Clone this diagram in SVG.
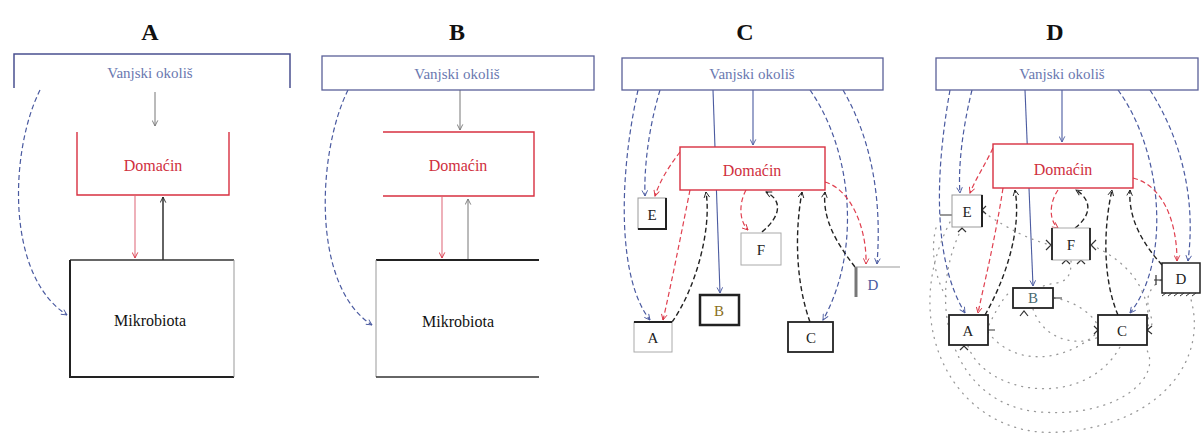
<svg xmlns="http://www.w3.org/2000/svg" width="1204" height="437" viewBox="0 0 1204 437">
<defs>
<marker id="mb" viewBox="0 0 10 10" refX="9" refY="5" markerWidth="7" markerHeight="7" orient="auto" markerUnits="userSpaceOnUse"><path d="M1,1 L9,5 L1,9" fill="none" stroke="#4a5aa0" stroke-width="1.3"/></marker>
<marker id="mr" viewBox="0 0 10 10" refX="9" refY="5" markerWidth="7" markerHeight="7" orient="auto" markerUnits="userSpaceOnUse"><path d="M1,1 L9,5 L1,9" fill="none" stroke="#d83040" stroke-width="1.3"/></marker>
<marker id="mk" viewBox="0 0 10 10" refX="9" refY="5" markerWidth="7" markerHeight="7" orient="auto" markerUnits="userSpaceOnUse"><path d="M1,1 L9,5 L1,9" fill="none" stroke="#222" stroke-width="1.3"/></marker>
<marker id="mg" viewBox="0 0 10 10" refX="9" refY="5" markerWidth="7" markerHeight="7" orient="auto" markerUnits="userSpaceOnUse"><path d="M1,1 L9,5 L1,9" fill="none" stroke="#777" stroke-width="1.3"/></marker>
</defs>
<style>
.t{font-family:"Liberation Serif",serif;font-weight:bold;font-size:24px;fill:#111;text-anchor:middle}
.v{font-family:"Liberation Serif",serif;font-size:15px;fill:#6a78b0;text-anchor:middle}
.h{font-family:"Liberation Serif",serif;font-size:16px;fill:#d03040;text-anchor:middle}
.m{font-family:"Liberation Serif",serif;font-size:16px;fill:#111;text-anchor:middle}
.l{font-family:"Liberation Serif",serif;font-size:15px;fill:#222;text-anchor:middle}
.env{fill:#fff;stroke:#5a6098;stroke-width:1.3}
.host{fill:#fff;stroke:#d83040;stroke-width:1.4}
.bx{fill:#fff;stroke:#222;stroke-width:1.8}
.bd{fill:none;stroke:#4a5aa0;stroke-width:1.2;stroke-dasharray:5,3}
.bs{fill:none;stroke:#4a5aa0;stroke-width:1.1}
.rd{fill:none;stroke:#e04050;stroke-width:1.2;stroke-dasharray:5,3}
.rs{fill:none;stroke:#e07080;stroke-width:1.1}
.kd{fill:none;stroke:#222;stroke-width:1.4;stroke-dasharray:5,3}
.ks{fill:none;stroke:#222;stroke-width:1.4}
.gs{fill:none;stroke:#777;stroke-width:1}
.dot{fill:none;stroke:#999;stroke-width:1.3;stroke-dasharray:1,6;stroke-linecap:round}
.tk{fill:none;stroke:#333;stroke-width:1.2}
</style>

<!-- Panel titles -->
<text class="t" x="150" y="40">A</text>
<text class="t" x="457" y="40">B</text>
<text class="t" x="745" y="40">C</text>
<text class="t" x="1055" y="40">D</text>

<!-- ===== Panel A ===== -->
<g id="A-conn">
<path d="M155,92 V126" class="gs" marker-end="url(#mg)"/>
<path d="M135,196 V258" class="rs" marker-end="url(#mr)"/>
<path d="M163,260 V197" class="ks" marker-end="url(#mk)"/>
<path d="M40,90 C10,150 5,275 67,315" class="bd" marker-end="url(#mb)"/>
</g>
<g id="A-env"><path d="M14,88 V54 H290 V88" fill="none" stroke="#4a5090" stroke-width="1.5"/><text class="v" x="150" y="78">Vanjski okoliš</text></g>
<g id="A-host"><path d="M77,132 V195 H229 V132" fill="none" stroke="#d83040" stroke-width="1.4"/><text class="h" x="153" y="171">Domaćin</text></g>
<g id="A-micro"><path d="M70,260 H234" stroke="#333" stroke-width="1.5"/><path d="M70,260 V377 H234" fill="none" stroke="#222" stroke-width="2"/><path d="M234,260 V377" stroke="#999" stroke-width="1"/><text class="m" x="150" y="326">Mikrobiota</text></g>

<!-- ===== Panel B ===== -->
<g id="B-conn">
<path d="M460,90 V130" class="gs" marker-end="url(#mg)"/>
<path d="M442,197 V258" class="rs" marker-end="url(#mr)"/>
<path d="M468,260 V199" class="gs" marker-end="url(#mg)"/>
<path d="M348,90 C318,150 310,285 372,325" class="bd" marker-end="url(#mb)"/>
</g>
<g id="B-env"><rect x="322" y="56" width="272" height="34" class="env"/><text class="v" x="457" y="79">Vanjski okoliš</text></g>
<g id="B-host"><path d="M383,132 H534 V196 H383" fill="none" stroke="#d83040" stroke-width="1.4"/><text class="h" x="458" y="171">Domaćin</text></g>
<g id="B-micro"><path d="M539,260 H376" stroke="#222" stroke-width="1.8"/><path d="M376,260 V377" stroke="#999" stroke-width="1"/><path d="M376,377 H539" stroke="#333" stroke-width="1.5"/><text class="m" x="458" y="327">Mikrobiota</text></g>

<!-- ===== Panel C ===== -->
<g id="C-conn">
<path d="M753,90 V145" class="bs" marker-end="url(#mb)"/>
<path d="M713,90 L720,293" class="bs" marker-end="url(#mb)"/>
<path d="M638,90 C618,180 618,280 650,320" class="bd" marker-end="url(#mb)"/>
<path d="M660,90 C648,130 644,170 645,196" class="bd" marker-end="url(#mb)"/>
<path d="M810,90 C852,150 862,250 823,320" class="bd" marker-end="url(#mb)"/>
<path d="M843,90 C872,140 882,200 877,264" class="bd" marker-end="url(#mb)"/>
<path d="M680,152 C670,165 660,180 655,196" class="rd" marker-end="url(#mr)"/>
<path d="M690,190 C680,240 670,290 663,320" class="rd" marker-end="url(#mr)"/>
<path d="M672,322 C695,290 712,230 706,192" class="kd" marker-end="url(#mk)"/>
<path d="M746,190 C738,205 740,222 748,230" class="rd" marker-end="url(#mr)"/>
<path d="M762,232 C782,215 782,200 766,192" class="kd" marker-end="url(#mk)"/>
<path d="M810,322 C795,280 795,230 802,192" class="kd" marker-end="url(#mk)"/>
<path d="M855,267 C838,245 822,220 825,192" class="kd" marker-end="url(#mk)"/>
<path d="M825,182 C852,190 867,230 866,264" class="rd" marker-end="url(#mr)"/>
</g>
<g id="C-env"><rect x="622" y="58" width="261" height="32" class="env"/><text class="v" x="752" y="79">Vanjski okoliš</text></g>
<g id="C-host"><rect x="680" y="147" width="145" height="43" class="host"/><text class="h" x="752" y="176">Domaćin</text></g>
<g id="C-E"><rect x="638" y="198" width="28" height="31" fill="#fff" stroke="#999" stroke-width="1"/><path d="M666,198 V229 H638" fill="none" stroke="#222" stroke-width="2"/><text class="l" x="652" y="220">E</text></g>
<g id="C-F"><rect x="741" y="233" width="40" height="32" fill="#fff" stroke="#aaa" stroke-width="1"/><text class="l" x="761" y="255">F</text></g>
<g id="C-D"><path d="M856,297 V267" stroke="#777" stroke-width="3"/><path d="M856,267 H900" stroke="#999" stroke-width="1"/><text class="l" x="873" y="290" style="fill:#4a5aa0">D</text></g>
<g id="C-B"><rect x="700" y="295" width="39" height="30" fill="#fff" stroke="#222" stroke-width="2.5"/><text class="l" x="719" y="316" style="fill:#8a7020">B</text></g>
<g id="C-A"><rect x="634" y="322" width="38" height="30" fill="#fff" stroke="#aaa" stroke-width="1"/><path d="M634,322 H672" stroke="#222" stroke-width="1.8"/><text class="l" x="653" y="343">A</text></g>
<g id="C-C"><rect x="788" y="322" width="45" height="30" class="bx"/><text class="l" x="811" y="343">C</text></g>

<!-- ===== Panel D ===== -->
<g id="D-conn">
<path d="M1062,90 V142" class="bs" marker-end="url(#mb)"/>
<path d="M1025,90 L1033,286" class="bs" marker-end="url(#mb)"/>
<path d="M950,90 C934,180 934,262 965,313" class="bd" marker-end="url(#mb)"/>
<path d="M972,90 C962,130 958,170 960,193" class="bd" marker-end="url(#mb)"/>
<path d="M1118,90 C1162,150 1172,260 1130,313" class="bd" marker-end="url(#mb)"/>
<path d="M1150,90 C1182,140 1196,200 1188,261" class="bd" marker-end="url(#mb)"/>
<path d="M993,148 C985,165 975,180 970,193" class="rd" marker-end="url(#mr)"/>
<path d="M1003,188 C995,240 985,280 978,313" class="rd" marker-end="url(#mr)"/>
<path d="M985,315 C1005,280 1022,230 1015,190" class="kd" marker-end="url(#mk)"/>
<path d="M1058,190 C1048,205 1050,222 1058,228" class="rd" marker-end="url(#mr)"/>
<path d="M1075,228 C1092,215 1092,200 1076,190" class="kd" marker-end="url(#mk)"/>
<path d="M1118,315 C1103,280 1103,230 1112,190" class="kd" marker-end="url(#mk)"/>
<path d="M1162,265 C1144,245 1128,220 1130,190" class="kd" marker-end="url(#mk)"/>
<path d="M1133,178 C1162,185 1177,220 1177,261" class="rd" marker-end="url(#mr)"/>
<path d="M950,222 C895,330 960,440 1060,432 C1160,425 1210,360 1190,296" class="dot"/>
<path d="M962,228 C925,300 950,405 1040,412 C1120,418 1165,375 1145,347" class="dot"/>
<path d="M968,346 C985,395 1085,410 1120,347" class="dot"/>
<path d="M988,332 C1012,365 1062,365 1098,332" class="dot"/>
<path d="M1033,309 C1045,345 1085,345 1098,337" class="dot"/>
<path d="M983,212 C1010,230 1030,240 1051,245" class="dot"/>
<path d="M1091,245 C1130,262 1152,292 1148,330" class="dot"/>
<path d="M1071,261 C1072,290 1050,280 1042,287" class="dot"/>
<path d="M1161,280 C1132,300 1162,320 1148,330" class="dot"/>
<path d="M1054,298 C1080,302 1094,318 1097,324" class="dot"/>
<path d="M989,325 C1000,302 1008,292 1012,291" class="dot"/>
<path d="M936,228 C930,250 935,280 948,300" class="dot"/>
<path d="M940,215 H952 M986,206 l-4,4 l4,4 M1046,240 l5,5 l-5,5 M1096,240 l-5,5 l5,5 M1154,280 H1162 M1156,275 V285 M1054,298 H1062 M1094,326 l4,4 l-4,4 M1152,326 l-5,4 l5,4 M988,330 H995 M960,350 l4,-4 l4,4 M1020,316 l4,-5 l4,5 M1062,264 l4,-4 l4,4 M1077,264 l4,-4 l4,4 M958,232 l4,-4 l4,4" class="tk"/>
</g>
<g id="D-env"><rect x="936" y="58" width="262" height="32" class="env"/><text class="v" x="1062" y="79">Vanjski okoliš</text></g>
<g id="D-host"><rect x="993" y="144" width="140" height="44" class="host" stroke-width="1.8"/><text class="h" x="1063" y="175">Domaćin</text></g>
<g id="D-E"><rect x="952" y="195" width="30" height="32" fill="#fff" stroke="#999" stroke-width="1"/><path d="M982,195 V227" stroke="#222" stroke-width="2"/><text class="l" x="967" y="217">E</text></g>
<g id="D-F"><rect x="1052" y="228" width="38" height="32" fill="#fff" stroke="#aaa" stroke-width="1"/><path d="M1052,228 V260 M1090,228 V260" stroke="#222" stroke-width="1.8"/><text class="l" x="1071" y="250">F</text></g>
<g id="D-D"><rect x="1162" y="263" width="38" height="30" fill="#fff" stroke="#222" stroke-width="1.5"/><path d="M1162,296 l4,-3 M1168,296 l4,-3 M1174,296 l4,-3 M1180,296 l4,-3 M1186,296 l4,-3 M1192,296 l4,-3" stroke="#333" stroke-width="1"/><text class="l" x="1181" y="284">D</text></g>
<g id="D-B"><rect x="1013" y="288" width="40" height="20" class="bx"/><text class="l" x="1033" y="303" style="fill:#4a6a70">B</text></g>
<g id="D-A"><rect x="949" y="315" width="39" height="30" class="bx"/><text class="l" x="968" y="336">A</text></g>
<g id="D-C"><rect x="1098" y="315" width="49" height="30" class="bx"/><text class="l" x="1122" y="336">C</text></g>
</svg>
